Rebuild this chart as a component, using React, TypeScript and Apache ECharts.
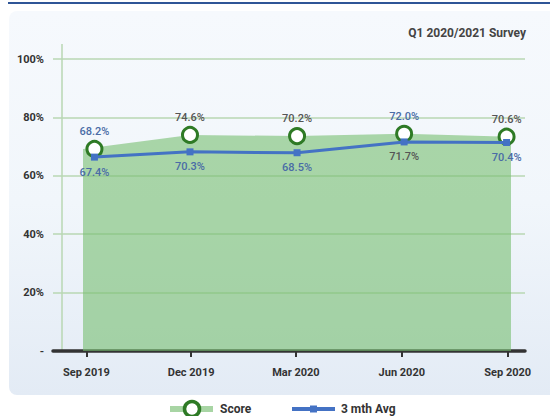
import React, { useEffect, useRef } from "react";
import * as echarts from "echarts";

// ---- data ----
const tickLabels = ["Sep 2019", "Dec 2019", "Mar 2020", "Jun 2020", "Sep 2020"];
const tickDates = ["2019-09-01", "2019-12-01", "2020-03-01", "2020-06-01", "2020-09-01"];
const surveyDates = ["2019-09-08", "2019-11-30", "2020-03-02", "2020-06-03", "2020-08-31"];
const score = [69.2, 74.0, 73.6, 74.4, 73.4];
const avg3 = [66.4, 68.2, 67.9, 71.6, 71.4];
const scoreLabels = ["68.2%", "74.6%", "70.2%", "72.0%", "70.6%"];
const avgLabels = ["67.4%", "70.3%", "68.5%", "71.7%", "70.4%"];
const yTicks = [0, 20, 40, 60, 80, 100];
const yTickLabels = ["-", "20%", "40%", "60%", "80%", "100%"];
const axisStart = "2019-08-03";
const axisEnd = "2020-09-16";

// ---- styles ----
const BLUE_TXT = "#4a6ca6";
const GRAY_TXT = "#555555";
const scoreLabelColors = [BLUE_TXT, GRAY_TXT, GRAY_TXT, BLUE_TXT, GRAY_TXT];
const avgLabelColors = [BLUE_TXT, BLUE_TXT, BLUE_TXT, GRAY_TXT, BLUE_TXT];
const FONT = "Roboto";

// days since 2019-09-01 (UTC based, no timezone issues)
function day(s: string): number {
  const [y, m, d] = s.split("-").map(Number);
  return Math.round((Date.UTC(y, m - 1, d) - Date.UTC(2019, 8, 1)) / 86400000);
}

export default function App() {
  const ref = useRef<HTMLDivElement>(null);
  useEffect(() => {
    if (!ref.current) return;
    const chart = echarts.init(ref.current, undefined, { renderer: "svg" });
    const tickDays = tickDates.map(day);
    chart.setOption({
      animation: false,
      textStyle: { fontFamily: FONT },
      title: {
        text: "Q1 2020/2021 Survey",
        right: 24,
        top: 27,
        padding: 0,
        textStyle: { fontFamily: FONT, fontSize: 12, fontWeight: "bold", color: "#444" },
      },
      grid: [
        { left: 53, right: 25, top: 59, bottom: 65 },
        { left: 83, right: 39, top: 59, bottom: 65 },
      ],
      xAxis: [
        {
          type: "value",
          gridIndex: 0,
          min: day(axisStart),
          max: day(axisEnd),
          axisLine: { show: true, onZero: false, lineStyle: { color: "#333", width: 3.5 } },
          axisTick: {
            show: true,
            customValues: tickDays,
            length: 6,
            lineStyle: { color: "#333", width: 2 },
          },
          axisLabel: {
            customValues: tickDays,
            formatter: (v: number) => {
              const i = tickDays.indexOf(v);
              return i >= 0 ? tickLabels[i] : "";
            },
            fontFamily: FONT,
            fontSize: 11,
            fontWeight: "bold",
            color: "#333",
            margin: 16,
          },
          splitLine: { show: false },
        },
        {
          type: "category",
          gridIndex: 1,
          data: tickLabels,
          boundaryGap: false,
          show: false,
        },
      ],
      yAxis: [
        {
          type: "value",
          gridIndex: 0,
          min: 0,
          max: 100,
          interval: 20,
          axisLine: { show: false },
          axisTick: { show: false },
          axisLabel: {
            formatter: (v: number) => {
              const i = yTicks.indexOf(v);
              return i >= 0 ? yTickLabels[i] : "";
            },
            fontFamily: FONT,
            fontSize: 11,
            fontWeight: "bold",
            color: "#333",
            margin: 9,
          },
          splitLine: { lineStyle: { color: "#b9d7b3", width: 1.5 } },
        },
        {
          type: "value",
          gridIndex: 1,
          min: 0,
          max: 100,
          show: false,
          splitLine: { show: false },
        },
      ],
      series: [
        {
          name: "ScoreArea",
          type: "line",
          xAxisIndex: 1,
          yAxisIndex: 1,
          data: score,
          symbol: "none",
          lineStyle: { width: 0 },
          areaStyle: { color: "rgba(118,190,112,0.6)", opacity: 1 },
          z: 1,
          silent: true,
        },
        {
          name: "Score",
          type: "scatter",
          xAxisIndex: 0,
          yAxisIndex: 0,
          symbol: "circle",
          symbolSize: 15,
          itemStyle: { color: "#ffffff", borderColor: "#2e7a25", borderWidth: 3, opacity: 1 },
          data: surveyDates.map((d, i) => ({
            value: [day(d), score[i]],
            label: { color: scoreLabelColors[i] },
          })),
          label: {
            show: true,
            position: "top",
            distance: 3,
            formatter: (p: any) => scoreLabels[p.dataIndex],
            fontFamily: FONT,
            fontSize: 11,
            fontWeight: 500,
          },
          z: 3,
        },
        {
          name: "3 mth Avg",
          type: "line",
          xAxisIndex: 0,
          yAxisIndex: 0,
          symbol: "rect",
          symbolSize: 7,
          lineStyle: { color: "#4472c4", width: 3 },
          itemStyle: { color: "#4472c4" },
          data: surveyDates.map((d, i) => ({
            value: [day(d), avg3[i]],
            label: { color: avgLabelColors[i] },
          })),
          label: {
            show: true,
            position: "bottom",
            distance: 6,
            formatter: (p: any) => avgLabels[p.dataIndex],
            fontFamily: FONT,
            fontSize: 11,
            fontWeight: 500,
          },
          z: 4,
        },
      ],
      graphic: [
        {
          type: "line",
          shape: { x1: 62, y1: 44, x2: 62, y2: 350 },
          style: { stroke: "#b9d7b3", lineWidth: 1.5 },
          z: 0,
          silent: true,
        },
        {
          type: "rect",
          shape: { x: 170, y: 406, width: 43, height: 6 },
          style: { fill: "#a8d5a4" },
        },
        {
          type: "circle",
          shape: { cx: 192, cy: 409, r: 7.5 },
          style: { fill: "#ffffff", stroke: "#2e7a25", lineWidth: 3.5 },
        },
        {
          type: "text",
          x: 220,
          y: 409,
          style: {
            text: "Score",
            fontFamily: FONT,
            fontSize: 12,
            fontWeight: "bold",
            fill: "#333",
            verticalAlign: "middle",
          },
        },
        {
          type: "line",
          shape: { x1: 292, y1: 409, x2: 335, y2: 409 },
          style: { stroke: "#4472c4", lineWidth: 4 },
        },
        {
          type: "rect",
          shape: { x: 310, y: 405.5, width: 7, height: 7 },
          style: { fill: "#4472c4" },
        },
        {
          type: "text",
          x: 341,
          y: 409,
          style: {
            text: "3 mth Avg",
            fontFamily: FONT,
            fontSize: 12,
            fontWeight: "bold",
            fill: "#333",
            verticalAlign: "middle",
          },
        },
      ],
    });
    return () => chart.dispose();
  }, []);

  return (
    <div style={{ position: "fixed", left: 0, top: 0, width: 550, height: 416, background: "#ffffff", overflow: "hidden" }}>
      <div style={{ position: "absolute", left: 8, right: 0, top: 2, height: 1.5, background: "#2f5597" }} />
      <div
        style={{
          position: "absolute",
          left: 9,
          top: 11,
          width: 560,
          height: 384,
          borderRadius: 8,
          background: "linear-gradient(180deg, #f6f9fd 0%, #f1f6fb 50%, #e3ebf5 100%)",
        }}
      />
      <div ref={ref} style={{ position: "absolute", left: 0, top: 0, width: 550, height: 416 }} />
    </div>
  );
}
